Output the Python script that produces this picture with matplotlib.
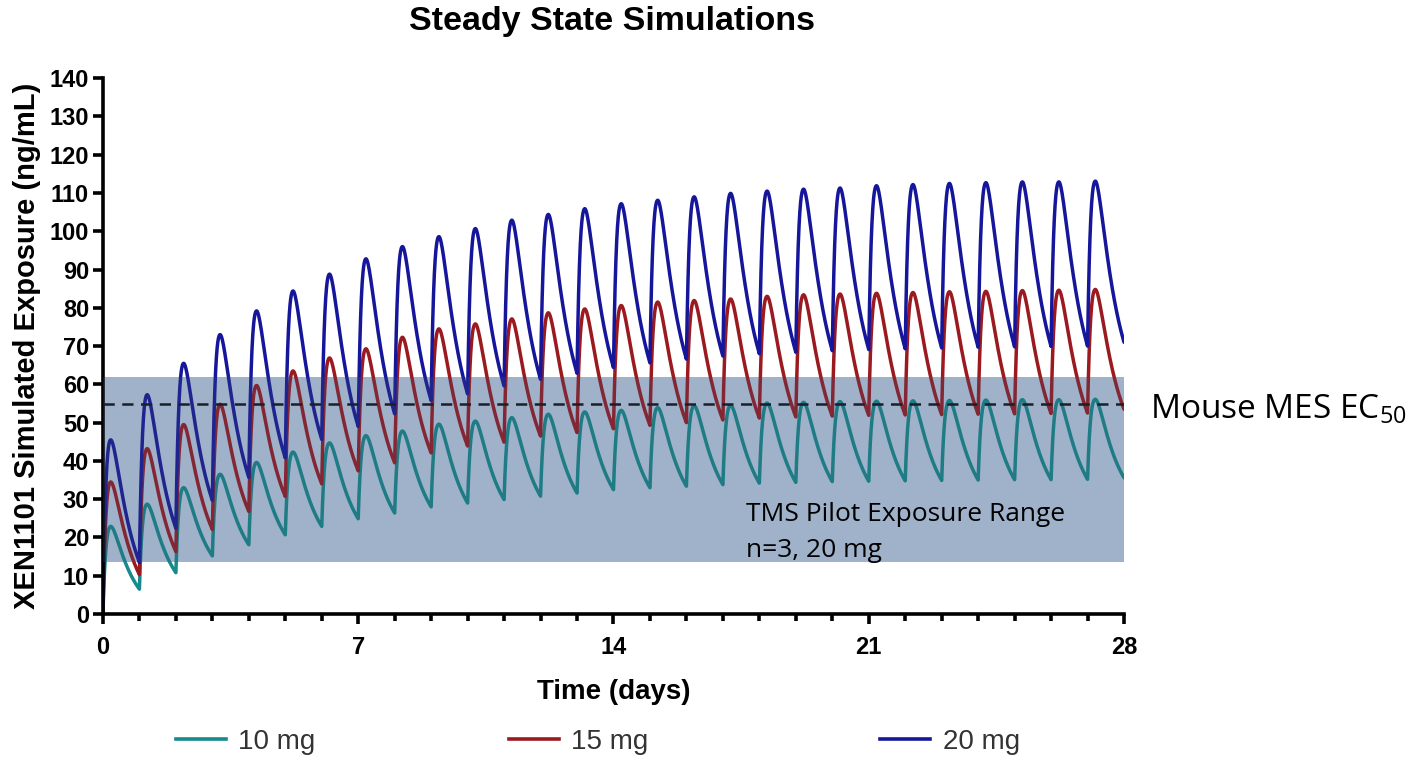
import numpy as np
import matplotlib
matplotlib.use("Agg")
import matplotlib.pyplot as plt
from matplotlib.lines import Line2D

# ---------------- data ----------------
days = list(range(28))  # dosing days (once daily)

peak_10 = [22.9, 28.7, 33.0, 36.5, 39.6, 42.3, 44.7, 46.6, 47.8, 49.6, 50.4, 51.3, 52.2, 52.8,
           53.2, 53.9, 54.4, 54.5, 55.1, 55.3, 55.5, 55.6, 55.7, 55.8, 55.9, 56.0, 56.0, 56.1]
trough_10 = [6.5, 10.8, 15.2, 18.1, 20.7, 22.9, 24.9, 26.4, 28.0, 29.0, 29.9, 30.8, 31.6, 32.5,
             33.0, 33.4, 33.8, 34.2, 34.4, 34.6, 34.7, 34.8, 34.9, 35.0, 35.1, 35.1, 35.2, 35.6]

peak_15 = [34.5, 43.2, 49.5, 54.8, 59.7, 63.5, 66.9, 69.3, 72.3, 74.5, 75.8, 77.1, 78.7, 79.7,
           80.6, 81.5, 81.9, 82.3, 83.0, 83.4, 83.6, 83.8, 84.0, 84.2, 84.3, 84.5, 84.6, 84.8]
trough_15 = [10.3, 16.3, 22.1, 26.8, 30.7, 34.0, 37.4, 39.5, 42.1, 43.9, 44.9, 46.5, 47.4, 48.4,
             49.3, 50.0, 50.7, 51.2, 51.5, 51.7, 51.9, 52.0, 52.1, 52.2, 52.3, 52.4, 52.5, 53.5]

peak_20 = [45.5, 57.3, 65.5, 73.0, 79.2, 84.4, 88.8, 92.8, 96.0, 98.6, 100.7, 102.9, 104.4, 105.9,
           107.2, 108.1, 109.0, 109.9, 110.5, 111.0, 111.3, 111.9, 112.2, 112.5, 112.7, 112.9, 112.9, 113.1]
trough_20 = [13.5, 22.4, 29.7, 35.7, 40.8, 45.6, 49.0, 52.3, 55.8, 57.5, 59.6, 61.3, 62.9, 64.4,
             65.6, 66.6, 67.4, 68.0, 68.4, 68.8, 69.1, 69.3, 69.5, 69.7, 69.8, 69.9, 70.0, 71.0]

series_labels = ["10 mg", "15 mg", "20 mg"]
series_colors = ["#168A8C", "#9A1A20", "#16169A"]

ec50 = 55.0
tms_range = (13.6, 61.8)

x_ticks = [0, 7, 14, 21, 28]
y_ticks = list(range(0, 141, 10))

# ---------------- curve rendering (absorption / elimination shape) ----------------
KA, KE = 10.0, 1.7
TP = np.log(KA / KE) / (KA - KE)


def bateman(t):
    return np.exp(-KE * t) - np.exp(-KA * t)


def build_curve(peaks, troughs):
    ts, cs = [], []
    start = 0.0
    fmax, fend = bateman(TP), bateman(1.0)
    for d, pk, tr in zip(days, peaks, troughs):
        tau_r = np.linspace(0, TP, 40)
        rise = start + (pk - start) * bateman(tau_r) / fmax
        tau_d = np.linspace(TP, 1.0, 80)[1:]
        dec = tr + (pk - tr) * (bateman(tau_d) - fend) / (fmax - fend)
        ts.extend(list(d + tau_r) + list(d + tau_d))
        cs.extend(list(rise) + list(dec))
        start = tr
    return np.array(ts), np.array(cs)


# ---------------- figure ----------------
plt.rcParams['font.family'] = ['Liberation Sans', 'DejaVu Sans']
plt.rcParams['mathtext.fontset'] = 'custom'
plt.rcParams['mathtext.rm'] = 'Open Sans'
fig = plt.figure(figsize=(14.16, 7.59), dpi=100)
ax = fig.add_axes([0.0727, 0.191, 0.7211, 0.706])

# band base
ax.axhspan(tms_range[0], tms_range[1], xmin=0, xmax=1, color="#C1D3EA", zorder=1, lw=0)

for pk, tr, col, lab in zip([peak_10, peak_15, peak_20], [trough_10, trough_15, trough_20],
                            series_colors, series_labels):
    t, c = build_curve(pk, tr)
    ax.plot(t, c, color=col, lw=2.5, zorder=2, solid_capstyle='round')

# band overlay (mutes lines underneath)
ax.axhspan(tms_range[0], tms_range[1], color="#3C506E", alpha=0.25, zorder=3, lw=0)

ax.axhline(ec50, color="#1a1f2a", lw=1.8, ls=(0, (4.5, 3)), zorder=4)

ax.set_xlim(0, 28)
ax.set_ylim(0, 140)
ax.set_xticks(x_ticks)
ax.set_xticks(range(0, 29), minor=True)
ax.set_yticks(y_ticks)
for s in ['top', 'right']:
    ax.spines[s].set_visible(False)
for s in ['left', 'bottom']:
    ax.spines[s].set_linewidth(2.6)
ax.tick_params(axis='both', which='major', width=2.6, length=7, labelsize=17)
ax.tick_params(axis='x', which='minor', width=2.6, length=5)
ax.tick_params(axis='x', pad=9)
ax.tick_params(axis='y', pad=3)
for lbl in ax.get_xticklabels() + ax.get_yticklabels():
    lbl.set_fontweight('bold')

ax.set_xlabel("Time (days)", fontsize=20, fontweight='bold', labelpad=14)
ax.set_ylabel("XEN1101 Simulated Exposure (ng/mL)", fontsize=21, fontweight='bold', labelpad=6)
fig.text(0.432, 0.972, "Steady State Simulations", ha='center', va='center',
         fontsize=24.5, fontweight='bold')

ax.text(0.63, 0.152, "TMS Pilot Exposure Range\nn=3, 20 mg", transform=ax.transAxes,
        fontsize=19, family=['Open Sans', 'DejaVu Sans'], va='center', ha='left',
        linespacing=1.6, zorder=5)
fig.text(0.812, 0.46, "Mouse MES EC$_{\\mathrm{50}}$", fontsize=24,
         family=['Open Sans', 'DejaVu Sans'], va='center', ha='left')

# legend entries
leg_x = [0.1065, 0.3415, 0.604]
for x0, col, lab in zip(leg_x, series_colors, series_labels):
    h = Line2D([], [], color=col, lw=2.6)
    fig.legend([h], [lab], loc='center left', bbox_to_anchor=(x0, 0.023), frameon=False,
               fontsize=20, handlelength=1.8, handletextpad=0.45, labelcolor='#333333')

fig.savefig("out.png", dpi=100)
